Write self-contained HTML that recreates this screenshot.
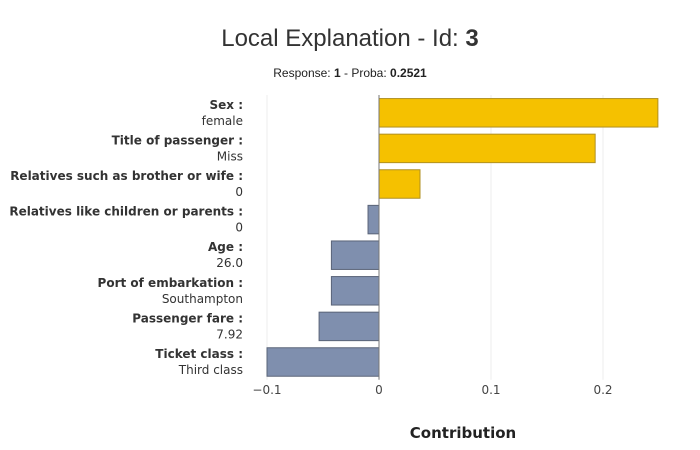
<!DOCTYPE html>
<html><head><meta charset="utf-8"><style>
body{margin:0;background:#fff;}
svg{display:block;}
</style></head><body>
<svg id="chart" width="700" height="450" xmlns="http://www.w3.org/2000/svg">
<text x="350" y="46" text-anchor="middle" font-family="Liberation Sans, sans-serif" font-size="24" fill="#333">Local Explanation - Id: <tspan font-weight="bold">3</tspan></text>
<text x="350" y="77" text-anchor="middle" font-family="Liberation Sans, sans-serif" font-size="12" fill="#222">Response: <tspan font-weight="bold">1</tspan> - Proba: <tspan font-weight="bold">0.2521</tspan></text>
<text x="463" y="438" text-anchor="middle" font-family="DejaVu Sans, sans-serif" font-size="15" font-weight="bold" fill="#222">Contribution</text>
<g id="grid"></g><g id="bars"></g><g id="labels"></g><g id="ticks"></g>
</svg>
<script>
const features = ["Sex :","Title of passenger :","Relatives such as brother or wife :","Relatives like children or parents :","Age :","Port of embarkation :","Passenger fare :","Ticket class :"];
const featureValues = ["female","Miss","0","0","26.0","Southampton","7.92","Third class"];
const contributions = [0.249, 0.193, 0.0366, -0.0098, -0.0425, -0.0425, -0.0535, -0.1];
const tickValues = [-0.1, 0, 0.1, 0.2];
const tickLabels = ["\u22120.1","0","0.1","0.2"];

const NS="http://www.w3.org/2000/svg";
const x0=379, pxPerUnit=1120, plotTop=95, bandH=35.6;
const xs=v=>x0+v*pxPerUnit;
const ys=i=>plotTop+i*bandH;
function mk(tag,attrs,parent){const e=document.createElementNS(NS,tag);for(const k in attrs)e.setAttribute(k,attrs[k]);parent.appendChild(e);return e;}
const grid=document.getElementById('grid'),bars=document.getElementById('bars'),labels=document.getElementById('labels'),ticks=document.getElementById('ticks');
tickValues.forEach((t,i)=>{
  if(t!==0){const g=mk('line',{x1:xs(t),x2:xs(t),y1:plotTop,y2:plotTop+8*bandH,stroke:'#eeeeee','stroke-width':1},grid);
  
  }
  const tx=mk('text',{x:xs(t),y:394,'text-anchor':'middle','font-family':'DejaVu Sans, sans-serif','font-size':12,fill:'#444'},ticks);
  tx.textContent=tickLabels[i];
  
  
});
contributions.forEach((v,i)=>{
  const y=ys(i)+bandH*0.1, h=bandH*0.8;
  const r=mk('rect',{x:Math.min(xs(v),x0),y:y,width:Math.abs(xs(v)-x0),height:h,fill:v>=0?'#f5c100':'#7f8fae',stroke:v>=0?'#b09020':'#5a6478','stroke-width':1},bars);
  
  
  const c=ys(i)+bandH/2;
  const t1=mk('text',{x:243,y:c-4,'text-anchor':'end','font-family':'DejaVu Sans, sans-serif','font-size':12,'font-weight':'bold',fill:'#333'},labels);
  t1.textContent=features[i];
  
  
  const t2=mk('text',{x:243,y:c+12,'text-anchor':'end','font-family':'DejaVu Sans, sans-serif','font-size':12,fill:'#333'},labels);
  t2.textContent=featureValues[i];
  
  
});
const z=mk('line',{x1:x0,x2:x0,y1:plotTop,y2:plotTop+8*bandH,stroke:'#777','stroke-width':1},bars);


</script>
</body></html>
